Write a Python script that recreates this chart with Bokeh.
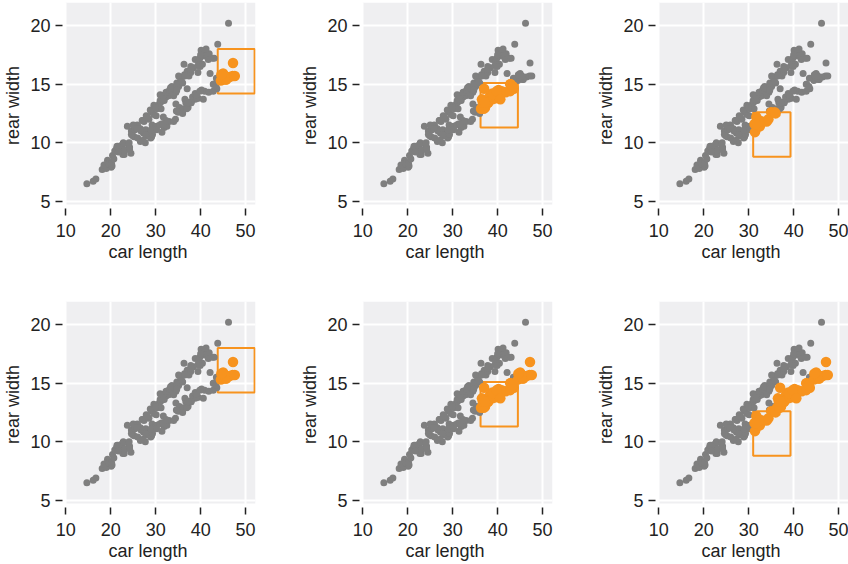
from bokeh.plotting import figure
from bokeh.layouts import column, row
from bokeh.models import Range1d, FixedTicker, BoxAnnotation, Title
from bokeh.embed import file_html
from bokeh.resources import INLINE

# Crab measurements: carapace length vs rear width (200 crabs)
car_length = [
    16.1, 18.1, 19.0, 20.1, 20.3, 23.0, 23.8, 24.5, 24.2, 25.2,
    27.3, 26.8, 27.7, 27.2, 27.4, 26.8, 28.2, 28.3, 27.8, 29.2,
    31.3, 31.9, 31.4, 32.4, 32.5, 32.3, 33.0, 35.8, 34.0, 34.5,
    35.1, 35.3, 36.3, 36.5, 37.2, 37.9, 38.2, 38.8, 39.5, 40.2,
    40.9, 41.8, 42.1, 42.8, 43.6, 44.5, 45.0, 45.5, 46.4, 47.1,
    14.7, 19.3, 18.5, 19.2, 19.6, 20.4, 20.9, 21.3, 21.7, 22.5,
    22.5, 22.8, 24.7, 24.6, 23.7, 24.9, 26.0, 24.6, 25.4, 27.1,
    25.9, 26.6, 27.4, 27.9, 28.5, 29.1, 29.6, 30.3, 30.8, 31.2,
    31.9, 32.3, 32.9, 33.4, 33.6, 34.2, 34.7, 35.1, 35.6, 36.0,
    36.4, 37.0, 37.4, 37.8, 38.4, 38.8, 39.6, 40.3, 40.8, 41.9,
    16.7, 20.2, 20.7, 22.7, 23.2, 24.2, 26.0, 27.1, 26.6, 27.5,
    29.2, 28.9, 29.1, 28.7, 28.7, 27.8, 29.3, 29.9, 29.0, 30.2,
    30.9, 30.2, 31.7, 32.3, 31.6, 35.0, 36.1, 34.4, 34.6, 36.0,
    36.9, 36.7, 38.8, 37.9, 37.8, 36.9, 37.2, 39.2, 39.1, 39.8,
    40.6, 42.8, 42.9, 43.5, 45.7, 43.4, 45.4, 44.6, 47.2, 47.6,
    21.4, 21.7, 24.1, 25.0, 25.8, 27.0, 28.8, 28.1, 29.6, 30.0,
    30.1, 31.2, 31.6, 31.0, 31.0, 31.6, 31.4, 31.6, 32.3, 33.1,
    34.5, 34.5, 33.3, 34.0, 34.7, 37.9, 35.1, 35.6, 36.5, 37.0,
    34.7, 35.8, 36.3, 37.8, 37.9, 39.9, 39.4, 40.1, 40.4, 39.8,
    39.4, 40.0, 41.5, 39.9, 43.8, 41.2, 41.7, 42.6, 43.0, 46.2,
]
rear_width = [
    6.7, 7.7, 7.8, 7.9, 8.0, 9.0, 9.9, 9.1, 9.6, 10.5,
    10.8, 11.0, 10.0, 10.2, 10.9, 11.0, 10.6, 10.9, 11.1, 11.1,
    11.6, 11.3, 10.9, 11.5, 11.4, 11.9, 11.8, 12.6, 11.8, 13.3,
    12.7, 13.0, 12.9, 13.7, 13.0, 13.5, 13.9, 14.2, 13.8, 14.5,
    14.4, 14.3, 15.9, 15.0, 14.6, 15.3, 15.9, 15.4, 15.6, 15.7,
    6.5, 8.5, 8.1, 8.2, 8.2, 8.9, 9.3, 9.5, 9.7, 9.5,
    9.8, 10.0, 11.0, 11.0, 11.4, 10.6, 11.4, 10.7, 11.1, 11.9,
    11.5, 11.2, 11.8, 12.3, 12.0, 12.6, 12.4, 12.9, 13.3, 12.9,
    13.6, 13.9, 14.0, 14.4, 14.8, 14.6, 15.1, 14.8, 15.4, 15.1,
    15.8, 16.1, 15.7, 16.5, 16.4, 17.1, 17.0, 17.7, 17.4, 17.6,
    6.9, 8.2, 8.6, 9.0, 9.4, 9.4, 10.4, 11.0, 10.1, 11.0,
    11.5, 10.4, 10.5, 10.7, 10.6, 10.7, 10.7, 11.3, 11.1, 11.4,
    11.5, 11.1, 12.2, 11.8, 11.6, 12.6, 12.8, 12.0, 12.7, 12.5,
    12.9, 13.4, 13.7, 13.4, 13.4, 13.5, 13.4, 13.8, 14.1, 14.4,
    13.7, 14.4, 15.0, 15.5, 15.4, 14.8, 15.7, 15.8, 16.8, 15.7,
    9.7, 9.2, 10.0, 11.5, 11.2, 11.9, 12.8, 12.2, 13.2, 13.0,
    12.3, 13.5, 14.0, 14.1, 13.6, 13.6, 13.7, 14.0, 14.3, 14.5,
    14.3, 14.4, 14.7, 14.0, 14.9, 16.3, 15.7, 15.5, 15.7, 14.6,
    14.5, 15.2, 16.7, 16.0, 16.3, 16.7, 16.6, 17.9, 16.7, 17.2,
    16.0, 17.5, 17.5, 16.5, 18.4, 18.0, 17.1, 17.2, 17.2, 20.2,
]

# Brushed regions, one per column (car length x rear width)
box_left = [43.8, 36.2, 31.0]
box_right = [52.0, 44.5, 39.3]
box_bottom = [14.2, 11.3, 8.8]
box_top = [18.0, 15.1, 12.6]

x_ticks = [10, 20, 30, 40, 50]
y_ticks = [5, 10, 15, 20]

GRAY = "#7f7f7f"
ORANGE = "#f7931e"
PANEL = "#efeff1"
TEXT = "#222222"
FONT = "Liberation Sans"

X0, X1 = 9.28, 52.2
Y0, Y1 = 4.38, 21.97
PANEL_LEFT, PANEL_BOTTOM = 10.0, 4.72


def in_box(i, b):
    return (box_left[b] <= car_length[i] <= box_right[b]
            and box_bottom[b] <= rear_width[i] <= box_top[b])


def panel(col, boxes, width, height, border_right, border_bottom):
    p = figure(width=width, height=height, output_backend="svg",
               toolbar_location=None, tools="",
               x_range=Range1d(X0, X1), y_range=Range1d(Y0, Y1),
               min_border_left=59, min_border_right=border_right,
               min_border_top=2, min_border_bottom=border_bottom)
    p.background_fill_color = "white"
    p.border_fill_color = "white"
    p.outline_line_color = None

    # grey panel, inset from the axes like a ggplot theme
    p.add_layout(BoxAnnotation(left=PANEL_LEFT, right=X1, bottom=PANEL_BOTTOM, top=Y1,
                               fill_color=PANEL, fill_alpha=1.0, line_color=None,
                               level="image"))

    for ax, ticks in ((p.xaxis[0], x_ticks), (p.yaxis[0], y_ticks)):
        ax.ticker = FixedTicker(ticks=ticks)
        ax.axis_line_color = None
        ax.major_tick_line_color = TEXT
        ax.major_tick_line_width = 1.5
        ax.major_tick_out = 7
        ax.major_tick_in = 0
        ax.minor_tick_line_color = None
        ax.major_label_text_font = FONT
        ax.major_label_text_font_size = "18px"
        ax.major_label_text_color = TEXT
        ax.axis_label_text_font = FONT
        ax.axis_label_text_font_size = "18px"
        ax.axis_label_text_font_style = "normal"
        ax.axis_label_text_color = TEXT
        ax.axis_label_standoff = 4
        ax.major_label_standoff = 5
    p.xaxis.major_label_standoff = 8
    p.yaxis.axis_label = "rear width"

    # x-axis title, set a little left of the frame centre
    p.add_layout(Title(text="car length", align="left", offset=46,
                       text_font=FONT, text_font_size="18px",
                       text_font_style="normal", text_color=TEXT,
                       standoff=0), "below")

    p.xgrid.ticker = FixedTicker(ticks=x_ticks)
    p.ygrid.ticker = FixedTicker(ticks=y_ticks)
    for g in (p.xgrid, p.ygrid):
        g.grid_line_color = "white"
        g.grid_line_width = 2

    sel = [i for i in range(len(car_length)) if any(in_box(i, b) for b in boxes)]
    chosen = set(sel)
    rest = [i for i in range(len(car_length)) if i not in chosen]

    p.quad(left=[box_left[col]], right=[box_right[col]],
           bottom=[box_bottom[col]], top=[box_top[col]],
           fill_color=None, line_color=ORANGE, line_width=2)
    p.scatter([car_length[i] for i in rest], [rear_width[i] for i in rest],
              size=7, color=GRAY, line_color=None)
    p.scatter([car_length[i] for i in sel], [rear_width[i] for i in sel],
              size=10.5, color=ORANGE, line_color=None)
    return p


widths = [297, 296, 255]
rights = [42, 41, 0]

top_row = [panel(c, [c], widths[c], 299, rights[c], 91) for c in range(3)]
bottom_row = [panel(c, list(range(c + 1)), widths[c], 265, rights[c], 57) for c in range(3)]

layout = column(row(*top_row), row(*bottom_row))

open("out.html", "w").write(file_html(layout, INLINE))
